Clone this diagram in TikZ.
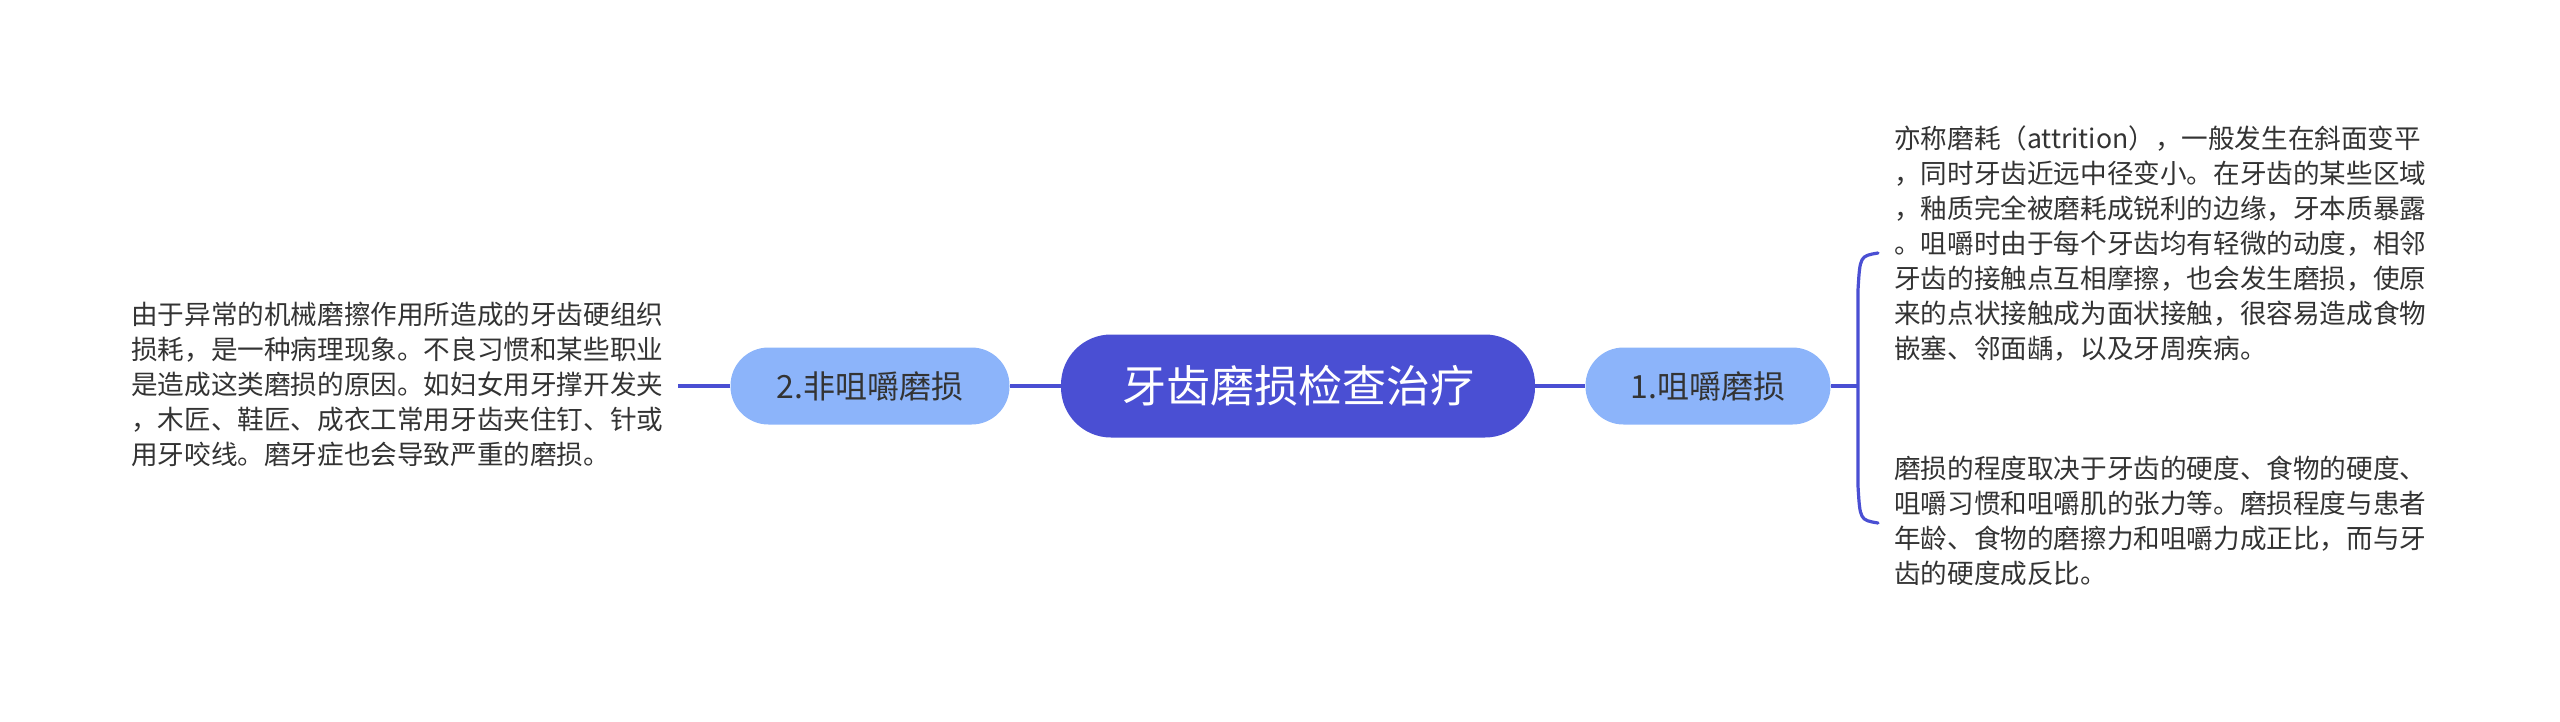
\documentclass[tikz,border=0pt]{standalone}
\usepackage{fontspec}
\setmainfont{Noto Sans CJK SC}
\definecolor{main}{HTML}{4A4FD3}
\definecolor{sub}{HTML}{8CB4FA}
\definecolor{txt}{HTML}{333333}
\begin{document}
\begin{tikzpicture}[x=1pt,y=-1pt,
  conn/.style={draw=main,line width=3.2pt},
  subnode/.style={rounded corners=38pt,fill=sub,minimum width=#1,minimum height=77pt,text=txt,font=\fontsize{32}{38}\selectfont,inner sep=0pt},
  desc/.style={anchor=north west,align=left,inner sep=0pt,text=txt,font=\fontsize{26.6}{35}\selectfont}]
\useasboundingbox (0,0) rectangle (2560,721);
\node[rounded corners=50pt,fill=main,minimum width=474pt,minimum height=103pt,text=white,font=\fontsize{44}{50}\selectfont,inner sep=0pt] (c) at (1298,386) {牙齿磨损检查治疗};
\node[subnode=279pt] (l) at (870,386) {2.非咀嚼磨损};
\node[subnode=245pt] (r) at (1708,386) {1.咀嚼磨损};
\coordinate (lt) at (678,386);
\coordinate (bx) at (1858,386);
\coordinate (bt) at (1878,253);
\coordinate (bb) at (1878,523);
\draw[conn] (c) -- (l);
\draw[conn] (c) -- (r);
\draw[conn] (l) -- (lt);
\draw[conn] (r) -- (bx);
\draw[conn,line cap=round] (bt) .. controls (1860,256) .. (1858,290) -- (1858,486) .. controls (1860,520) .. (bb);
\node[desc] (ltext) at (131,302) {由于异常的机械磨擦作用所造成的牙齿硬组织\\损耗，是一种病理现象。不良习惯和某些职业\\是造成这类磨损的原因。如妇女用牙撑开发夹\\，木匠、鞋匠、成衣工常用牙齿夹住钉、针或\\用牙咬线。磨牙症也会导致严重的磨损。};
\node[desc] (rtop) at (1894,126) {亦称磨耗（attrition），一般发生在斜面变平\\，同时牙齿近远中径变小。在牙齿的某些区域\\，釉质完全被磨耗成锐利的边缘，牙本质暴露\\。咀嚼时由于每个牙齿均有轻微的动度，相邻\\牙齿的接触点互相摩擦，也会发生磨损，使原\\来的点状接触成为面状接触，很容易造成食物\\嵌塞、邻面龋，以及牙周疾病。};
\node[desc] (rbot) at (1894,456) {磨损的程度取决于牙齿的硬度、食物的硬度、\\咀嚼习惯和咀嚼肌的张力等。磨损程度与患者\\年龄、食物的磨擦力和咀嚼力成正比，而与牙\\齿的硬度成反比。};
\end{tikzpicture}
\end{document}
